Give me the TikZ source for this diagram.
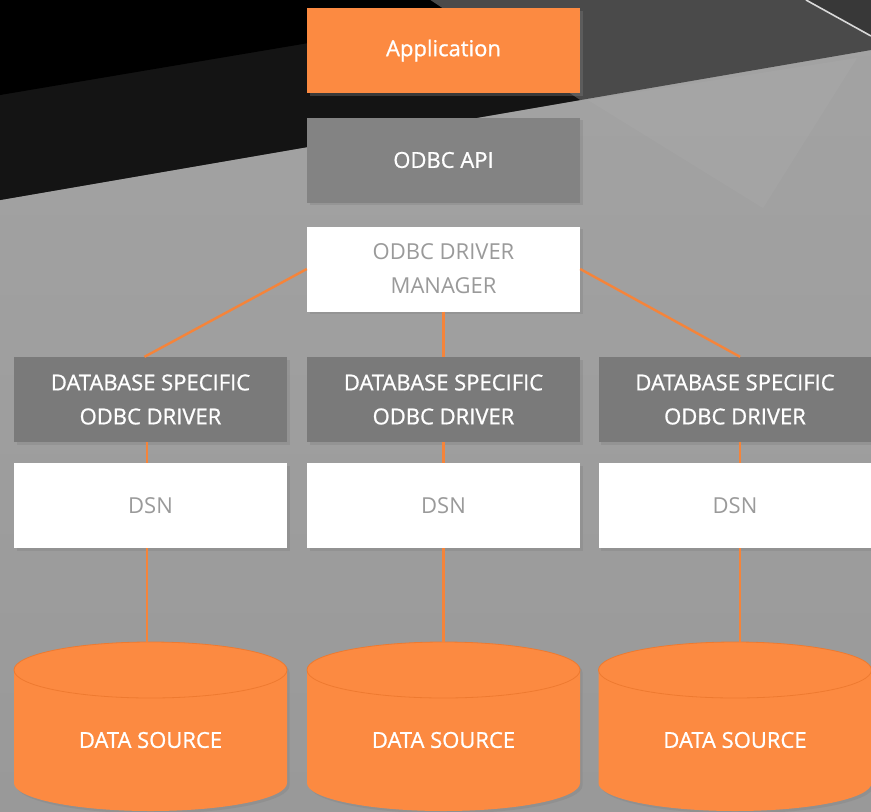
\documentclass[tikz,border=0pt]{standalone}
\usepackage{fontspec}
\setmainfont{Open Sans}
\newfontfamily\heavierfont{Open Sans}[FakeBold=0.9]
\usetikzlibrary{shadows,calc}

\definecolor{accent}{HTML}{FC8A41}
\definecolor{accentdark}{HTML}{EE7A30}
\definecolor{wire}{HTML}{F5843A}
\definecolor{apigray}{HTML}{838383}
\definecolor{drvgray}{HTML}{7A7A7A}
\definecolor{softtext}{HTML}{9A9A9A}

\tikzset{
  base/.style={minimum width=273pt, minimum height=85pt, inner sep=0pt,
    align=center, font=\fontsize{22}{34}\selectfont,
    drop shadow={opacity=0.35, shadow xshift=2.5pt, shadow yshift=-2.5pt}},
  orangebox/.style={base, fill=accent, text=white, font=\heavierfont\fontsize{22}{34}\selectfont},
  graybox/.style={base, fill=#1, text=white, font=\heavierfont\fontsize{22}{34}\selectfont},
  whitebox/.style={base, fill=white, text=softtext},
  wireline/.style={draw=wire, line width=2.4pt},
  dblabel/.style={text=white, font=\heavierfont\fontsize{22}{26}\selectfont},
}

\begin{document}
\begin{tikzpicture}[x=1pt, y=-1pt]
  \useasboundingbox (0,0) rectangle (871,812);

  % backdrop: gray plane with a dark diagonal band across the top
  \fill[top color=black!36, bottom color=black!40] (0,0) rectangle (871,812);
  \fill[black!71] (0,0) -- (871,0) -- (871,50) -- (0,200) -- cycle;
  \fill[black!78] (806,0) -- (871,0) -- (871,36) -- cycle;
  \draw[white!85!black, line width=1.6pt] (806,0) -- (871,36);
  \fill[black!92] (0,0) -- (430,0) -- (580,100) -- (0,200) -- cycle;
  \fill[black] (0,0) -- (430,0) -- (457,18) -- (0,95) -- cycle;
  \fill[white, opacity=0.04] (588,100) -- (857,58) -- (763,208) -- cycle;

  % application stack
  \node[orangebox] (app) at (443.5,50.5) {Application};
  \node[graybox=apigray] (api) at (443.5,160) {ODBC API};
  \node[whitebox] (mgr) at (443.5,269) {ODBC DRIVER\\MANAGER};

  % drivers
  \node[graybox=drvgray] (drv1) at (150.5,399.5) {DATABASE SPECIFIC\\ODBC DRIVER};
  \node[graybox=drvgray] (drv2) at (443.5,399.5) {DATABASE SPECIFIC\\ODBC DRIVER};
  \node[graybox=drvgray] (drv3) at (735,399.5) {DATABASE SPECIFIC\\ODBC DRIVER};

  % data source names
  \node[whitebox] (dsn1) at (150.5,505.5) {DSN};
  \node[whitebox] (dsn2) at (443.5,505.5) {DSN};
  \node[whitebox] (dsn3) at (735,505.5) {DSN};

  % data source cylinders
  \foreach \cx/\nm in {150.5/ds1, 443.5/ds2, 735/ds3}{
    \path[fill=accent, drop shadow={opacity=0.35, shadow xshift=2.5pt, shadow yshift=-2.5pt}]
      (\cx-136.5,670) -- (\cx-136.5,783)
      arc[start angle=180, end angle=0, x radius=136.5, y radius=28]
      -- (\cx+136.5,670)
      arc[start angle=0, end angle=-180, x radius=136.5, y radius=28] -- cycle;
    \draw[accentdark, line width=0.8pt] (\cx,670) ellipse[x radius=136.5, y radius=28];
    \coordinate (\nm top) at (\cx,642);
    \node[dblabel] (\nm) at (\cx,740) {DATA SOURCE};
  }

  % connectors
  \draw[wireline] (mgr.west) -- ([xshift=-6pt]drv1.north);
  \draw[wireline] (mgr.south) -- (drv2.north);
  \draw[wireline] (mgr.east) -- ([xshift=5pt]drv3.north);

  \draw[wireline] ([xshift=-3.5pt]drv1.south) -- ([xshift=-3.5pt]dsn1.north);
  \draw[wireline] (drv2.south) -- (dsn2.north);
  \draw[wireline] ([xshift=5pt]drv3.south) -- ([xshift=5pt]dsn3.north);

  \draw[wireline] ([xshift=-3.5pt]dsn1.south) -- ([xshift=-3.5pt]ds1top);
  \draw[wireline] (dsn2.south) -- (ds2top);
  \draw[wireline] ([xshift=5pt]dsn3.south) -- ([xshift=5pt]ds3top);
\end{tikzpicture}
\end{document}
